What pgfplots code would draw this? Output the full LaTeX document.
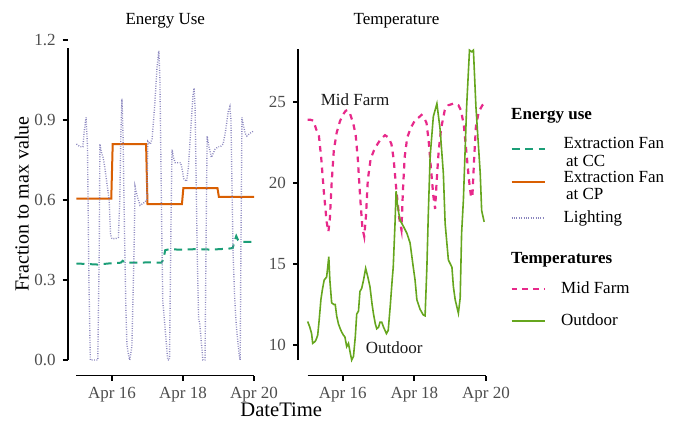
\documentclass[border=0pt]{standalone}
\usepackage{fontspec}
\setmainfont{Liberation Serif}
\usepackage{pgfplots}
\pgfplotsset{compat=1.18}
\definecolor{cCC}{HTML}{1B9E77}
\definecolor{cCP}{HTML}{D95F02}
\definecolor{cLi}{HTML}{7570B3}
\definecolor{cMF}{HTML}{E7298A}
\definecolor{cOD}{HTML}{66A61E}
\definecolor{tickgrey}{HTML}{4D4D4D}
\pgfplotsset{
  gg/.style={
    scale only axis,
    clip=false,
    axis line style={draw=none},
    tick align=outside,
    major tick length=2.5pt,
    tick style={black, line width=0.9pt},
    xtick pos=bottom, ytick pos=left,
    ticklabel style={font=\fontsize{8.5}{10}\selectfont, text=tickgrey},
    xmin=14.75, xmax=20.25,
    xtick={16,18,20}, xticklabels={Apr 16,Apr 18,Apr 20},
    title style={font=\fontsize{8.5}{10}\selectfont, at={(0.5,1)}, anchor=base, yshift=-2.25pt},
  },
  legend image code/.code={\draw[#1] (0pt,0pt) -- (16.5pt,0pt);},
}
\begin{document}
\begin{tikzpicture}
\useasboundingbox (0,0) rectangle (337.5pt,210.5pt);
% ---------------- Energy use ----------------
\begin{axis}[gg,
  at={(33.8pt,22.7pt)}, anchor=south west,
  width=97.65pt, height=171.55pt,
  ymin=-0.0585, ymax=1.2285,
  ytick={0,0.3,0.6,0.9,1.2}, yticklabels={0.0,0.3,0.6,0.9,1.2},
  title={Energy Use},
  ylabel={Fraction to max value},
  every axis y label/.style={at={(axis description cs:-0.2002,0.5)}, rotate=90, anchor=base, font=\fontsize{10}{12}\selectfont},
  xlabel={DateTime},
  every axis x label/.style={at={(axis description cs:1.094,-0.1178)}, anchor=base, font=\fontsize{10.3}{12}\selectfont},
]
\draw[black, line width=0.9pt] (axis cs:14.75,0) -- (axis cs:14.75,1.17);
\draw[black, line width=0.9pt] (axis cs:15,-0.0585) -- (axis cs:20,-0.0585);
\addplot[cCC, line width=1pt, dash pattern=on 4pt off 2.8pt] coordinates {
(15.00,0.362) (15.30,0.360) (15.60,0.358) (15.90,0.362) (16.25,0.365) (16.30,0.372)
(16.35,0.366) (16.70,0.365) (17.00,0.366) (17.40,0.365) (17.45,0.380) (17.50,0.412)
(17.60,0.415) (18.00,0.414) (18.40,0.416) (18.80,0.414) (19.30,0.418) (19.40,0.420)
(19.45,0.445) (19.50,0.465) (19.55,0.450) (19.60,0.443) (20.00,0.443)};
\addplot[cCP, line width=1pt] coordinates {
(15.00,0.605) (15.98,0.605) (16.02,0.81) (16.96,0.81) (17.00,0.585) (17.97,0.585)
(18.01,0.645) (18.97,0.645) (19.01,0.612) (20.00,0.612)};
\addplot[cLi!85, line width=0.7pt, dash pattern=on 0.45pt off 0.75pt] coordinates {
(15.00,0.81) (15.10,0.80) (15.18,0.80) (15.22,0.86) (15.27,0.91) (15.31,0.80)
(15.35,0.30) (15.39,0.00) (15.50,0.00) (15.60,0.00) (15.64,0.40) (15.66,0.81)
(15.70,0.78) (15.75,0.76) (15.80,0.72) (15.86,0.66) (15.92,0.60) (15.96,0.47)
(16.00,0.455) (16.10,0.455) (16.18,0.46) (16.22,0.60) (16.25,0.85) (16.28,0.98)
(16.31,0.85) (16.35,0.50) (16.39,0.20) (16.42,0.06) (16.44,0.04) (16.48,0.01)
(16.50,0.00) (16.56,0.05) (16.62,0.40) (16.65,0.65) (16.70,0.62) (16.79,0.58)
(16.90,0.59) (16.98,0.60) (17.01,0.82) (17.08,0.81) (17.13,0.83) (17.20,0.95)
(17.27,1.10) (17.32,1.16) (17.35,1.05) (17.40,0.50) (17.43,0.22) (17.47,0.16)
(17.52,0.08) (17.57,0.00) (17.62,0.00) (17.66,0.50) (17.69,0.79) (17.73,0.76)
(17.78,0.74) (17.83,0.74) (17.93,0.74) (17.97,0.72) (18.02,0.68) (18.10,0.67)
(18.15,0.72) (18.22,0.87) (18.28,0.99) (18.31,1.02) (18.34,0.95) (18.40,0.40)
(18.44,0.15) (18.47,0.14) (18.52,0.06) (18.56,0.00) (18.62,0.00) (18.66,0.60)
(18.68,0.84) (18.73,0.80) (18.80,0.76) (18.90,0.79) (18.99,0.80) (19.05,0.80)
(19.13,0.81) (19.20,0.86) (19.27,0.93) (19.32,0.95) (19.35,0.90) (19.41,0.40)
(19.45,0.25) (19.48,0.17) (19.52,0.10) (19.58,0.02) (19.61,0.00) (19.63,0.40)
(19.66,0.91) (19.70,0.88) (19.75,0.85) (19.80,0.84) (19.88,0.85) (20.00,0.86)};
\end{axis}
% ---------------- Temperature ----------------
\begin{axis}[gg,
  at={(149.0pt,22.7pt)}, anchor=south west,
  width=98.45pt, height=171.55pt,
  ymin=8.11, ymax=29.29,
  ytick={10,15,20,25}, yticklabels={10,15,20,25},
  title={Temperature},
  legend style={at={(axis description cs:1.0767,0.7937)}, anchor=north west,
    draw=none, fill=none, inner sep=0pt, row sep=0pt, column sep=9pt,
    nodes={inner sep=0pt, outer sep=0pt, text depth=0pt, font=\fontsize{8.5}{10}\selectfont},
    cells={anchor=base west}},
]
\draw[black, line width=0.9pt] (axis cs:14.75,9.07) -- (axis cs:14.75,28.3);
\draw[black, line width=0.9pt] (axis cs:15.02,8.11) -- (axis cs:20,8.11);
\addlegendimage{empty legend}
\addlegendentry{\rule{0pt}{8pt}\smash{\makebox[0pt][l]{\hspace*{-26.7pt}\textbf{Energy use}}}}
\addlegendimage{cCC, line width=1pt, dash pattern=on 4pt off 2.8pt}
\addlegendentry{\rule{0pt}{14.5pt}\smash{\rlap{Extraction Fan}\raisebox{-8.85pt}{\hspace{1.2pt}at CC}}}
\addlegendimage{cCP, line width=1pt}
\addlegendentry{\rule{0pt}{16.2pt}\smash{\rlap{Extraction Fan}\raisebox{-8.85pt}{\hspace{1.2pt}at CP}}}
\addlegendimage{cLi!85, line width=0.7pt, dash pattern=on 0.45pt off 0.75pt}
\addlegendentry{\rule{0pt}{17.5pt}\smash{\raisebox{-2.25pt}{Lighting}}}
\addlegendimage{empty legend}
\addlegendentry{\rule{0pt}{22.15pt}\smash{\makebox[0pt][l]{\hspace*{-26.7pt}\textbf{Temperatures}}}}
\addlegendimage{cMF, line width=1.1pt, dash pattern=on 2.8pt off 2.6pt}
\addlegendentry{\rule{0pt}{13pt}\smash{\raisebox{-2.2pt}{\hspace*{-1.2pt}Mid Farm}}}
\addlegendimage{cOD, line width=0.8pt}
\addlegendentry{\rule{0pt}{15.35pt}\smash{\raisebox{-2.4pt}{\hspace*{-1.2pt}Outdoor}}}
\addplot[cMF, line width=1.1pt, dash pattern=on 2.8pt off 2.6pt, forget plot] coordinates {
(15.02,23.9) (15.10,23.9) (15.18,23.85) (15.26,23.3) (15.33,23.0) (15.40,21.5)
(15.47,19.5) (15.55,17.6) (15.60,17.0) (15.64,17.8) (15.69,20.0) (15.75,22.0)
(15.83,23.1) (15.92,23.8) (16.00,24.2) (16.08,24.45) (16.13,24.5) (16.20,24.3)
(16.29,23.7) (16.36,23.0) (16.42,21.5) (16.49,19.0) (16.55,17.2) (16.60,16.7)
(16.65,18.0) (16.70,20.2) (16.78,21.5) (16.87,22.0) (16.97,22.4) (17.06,22.7)
(17.18,22.95) (17.28,22.8) (17.36,22.4) (17.42,21.5) (17.50,19.5) (17.58,17.8)
(17.64,17.1) (17.68,19.5) (17.73,21.6) (17.80,22.8) (17.90,23.4) (18.00,23.8)
(18.10,24.0) (18.20,24.2) (18.28,24.0) (18.34,23.7) (18.40,22.6) (18.46,21.0)
(18.53,19.2) (18.58,18.4) (18.62,20.0) (18.68,22.0) (18.75,23.4) (18.85,24.5)
(18.95,24.8) (19.09,24.9) (19.23,24.8) (19.30,24.5) (19.38,23.6) (19.45,22.0)
(19.52,20.3) (19.58,19.2) (19.62,19.1) (19.67,21.5) (19.72,23.5) (19.80,24.4)
(19.90,24.8) (20.00,25.0)};
\addplot[cOD, line width=0.8pt, forget plot] coordinates {
(15.02,11.45) (15.08,11.1) (15.13,10.7) (15.16,10.1) (15.22,10.2) (15.25,10.3)
(15.30,10.6) (15.34,11.5) (15.39,12.8) (15.43,13.4) (15.48,14.0) (15.55,14.2)
(15.58,14.8) (15.61,15.45) (15.64,14.0) (15.69,12.6) (15.75,12.5) (15.79,12.5)
(15.83,11.8) (15.88,11.3) (15.93,11.0) (15.97,10.8) (16.02,10.6) (16.06,10.5)
(16.11,9.9) (16.16,10.1) (16.21,9.5) (16.25,9.07) (16.30,9.3) (16.35,10.5)
(16.39,11.9) (16.44,12.1) (16.48,13.3) (16.53,13.5) (16.58,14.0) (16.64,14.73)
(16.70,14.2) (16.76,13.6) (16.82,12.5) (16.86,11.9) (16.91,11.3) (16.95,11.0)
(17.00,11.1) (17.04,11.4) (17.09,11.4) (17.14,11.1) (17.18,10.9) (17.22,10.7)
(17.27,10.9) (17.33,12.5) (17.38,14.0) (17.41,14.8) (17.46,17.5) (17.49,19.5)
(17.52,18.8) (17.56,18.2) (17.60,17.7) (17.70,17.3) (17.79,16.9) (17.88,16.3)
(17.97,14.8) (18.02,14.0) (18.07,12.8) (18.16,12.2) (18.25,11.85) (18.30,11.8)
(18.35,14.8) (18.39,18.1) (18.44,21.6) (18.53,24.1) (18.63,24.9) (18.72,23.3)
(18.81,20.6) (18.86,17.5) (18.95,15.25) (19.05,14.8) (19.09,13.6) (19.14,12.8)
(19.23,11.96) (19.28,12.9) (19.32,16.9) (19.37,18.95) (19.46,24.7) (19.54,28.2)
(19.60,28.1) (19.65,28.2) (19.72,24.7) (19.84,20.6) (19.88,18.3) (19.95,17.6)};
\node[anchor=base, font=\fontsize{8.5}{10}\selectfont, text=black!90] at (axis cs:16.344,24.81) {Mid Farm};
\node[anchor=base, font=\fontsize{8.5}{10}\selectfont, text=black!90] at (axis cs:17.44,9.49) {Outdoor};
\end{axis}
\end{tikzpicture}
\end{document}
